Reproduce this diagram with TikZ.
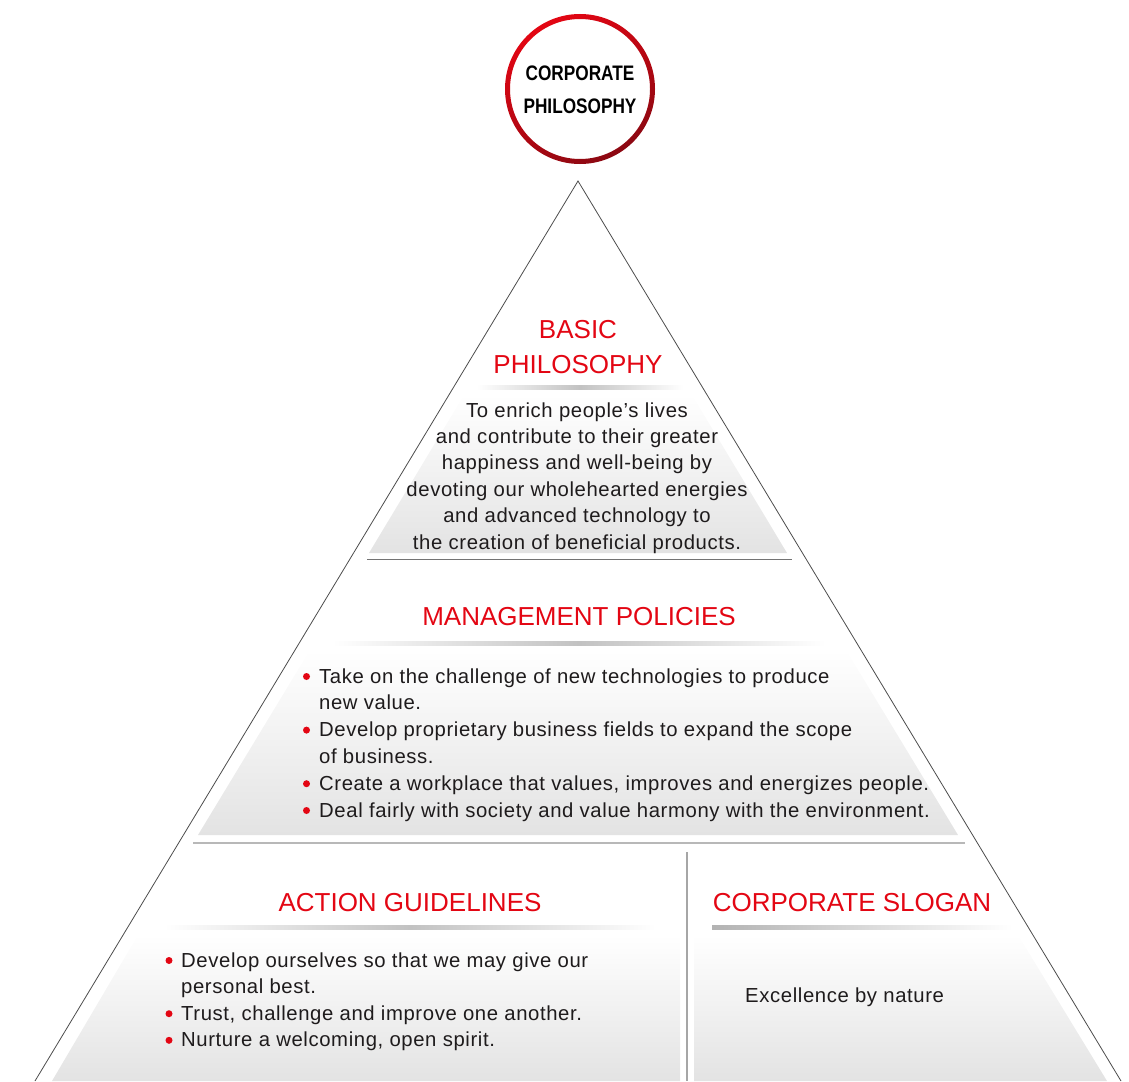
\documentclass[tikz,border=0pt]{standalone}
\usepackage{fontspec}
\setmainfont{Liberation Sans}
\newfontfamily\bodyfont[LetterSpace=3]{Liberation Sans}
\newfontfamily\circfont[FakeStretch=0.82]{Liberation Sans}
\usetikzlibrary{positioning}
\definecolor{philred}{RGB}{227,6,19}
\definecolor{phildark}{RGB}{140,8,18}
\definecolor{inktext}{RGB}{30,27,28}
\tikzset{
  heading/.style={anchor=base, inner sep=0pt, text=philred, font=\fontsize{26}{30}\selectfont},
  bodytext/.style={anchor=base, inner sep=0pt, text=inktext, font=\bodyfont\fontsize{20.3}{24}\selectfont},
  circtext/.style={anchor=base, inner sep=0pt, text=black, font=\circfont\bfseries\fontsize{21}{24}\selectfont},
  band/.style={top color=white, bottom color=black!11},
  underline/.style={left color=white, right color=white, middle color=black!24},
  edge/.style={draw=black!70, line width=0.8pt},
}

\begin{document}
\begin{tikzpicture}[x=1pt, y=-1pt]
  \useasboundingbox (0,0) rectangle (1129,1081);
  \coordinate (apex) at (578,181);
  \coordinate (bl) at (35,1081);
  \coordinate (br) at (1121,1081);
  \coordinate (hub) at (580,89);

  % shaded bands
  \shade[band] (464,395) -- (692,395) -- (787,553) -- (369,553) -- cycle;
  \shade[band] (310,650) -- (846,650) -- (958,835) -- (198,835) -- cycle;
  \shade[band] (138,935) -- (680,935) -- (680,1081) -- (52,1081) -- cycle;
  \shade[band] (694,935) -- (1018,935) -- (1107,1081) -- (694,1081) -- cycle;

  % pyramid and rules
  \draw[edge] (bl) -- (apex) -- (br);
  \draw[black!55, line width=1pt] (367,559) -- (792,559);
  \draw[black!28, line width=2pt] (193,843) -- (965,843);
  \draw[black!35, line width=1.5pt] (687,852) -- (687,1081);

  % underlines
  \shade[underline] (477,385) rectangle (683,389);
  \shade[underline] (333,641) rectangle (825,645);
  \shade[underline] (165,925) rectangle (655,929);
  \shade[left color=black!30, right color=white] (712,925) rectangle (1012,929);

  % top circle
  \shade[even odd rule, top color=philred, bottom color=phildark, shading angle=30]
    (hub) circle (75pt) (hub) circle (70pt);
  \node[circtext] (corp) at (580,80) {CORPORATE};
  \node[circtext] (phil) at (580,113) {PHILOSOPHY};

  % headings
  \node[heading] (basic) at (578,338) {BASIC};
  \node[heading] (basic2) at (578,373) {PHILOSOPHY};
  \node[heading] (policies) at (579,625) {MANAGEMENT POLICIES};
  \node[heading] (action) at (410,911) {ACTION GUIDELINES};
  \node[heading] (slogan) at (852,911) {CORPORATE SLOGAN};

  % basic philosophy text
  \foreach \t [count=\i from 0] in {To enrich people’s lives, and contribute to their greater,
      happiness and well-being by, devoting our wholehearted energies,
      and advanced technology to, the creation of beneficial products.}
    \node[bodytext] (bp\i) at (577,417+26.4*\i) {\t};

  % management policies
  \foreach \t [count=\i from 0] in {Take on the challenge of new technologies to produce, new value.,
      Develop proprietary business fields to expand the scope, of business.,
      {Create a workplace that values, improves and energizes people.},
      Deal fairly with society and value harmony with the environment.}
    \node[bodytext, anchor=base west] (mp\i) at (319,683+26.8*\i) {\t};
  \foreach \i in {0,2,4,5}
    \fill[philred] (306.5,683+26.8*\i-6.5) circle (3.5pt);

  % action guidelines
  \foreach \t [count=\i from 0] in {Develop ourselves so that we may give our, personal best.,
      {Trust, challenge and improve one another.}, {Nurture a welcoming, open spirit.}}
    \node[bodytext, anchor=base west] (ag\i) at (181,967+26.6*\i) {\t};
  \foreach \i in {0,2,3}
    \fill[philred] (169,967+26.6*\i-6.5) circle (3.5pt);

  % corporate slogan
  \node[bodytext, anchor=base west] (excel) at (745,1002) {Excellence by nature};
\end{tikzpicture}
\end{document}
